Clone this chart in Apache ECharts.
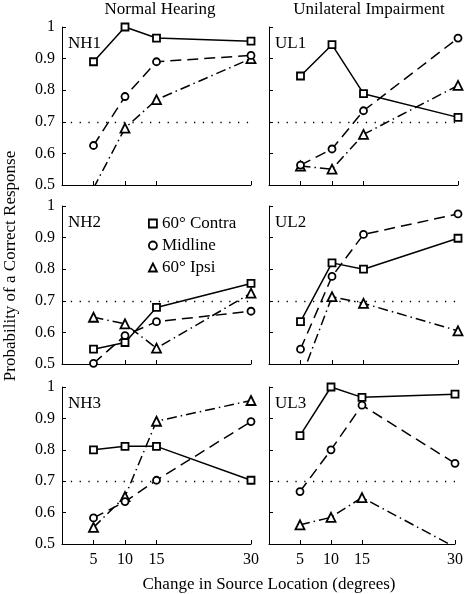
<!DOCTYPE html>
<html><head><meta charset="utf-8">
<script src="https://cdn.jsdelivr.net/npm/echarts@6/dist/echarts.min.js"></script>
<style>html,body{margin:0;padding:0;background:#fff}#c{width:466px;height:594px}</style>
</head><body><div id="c"></div>
<script>
// ---- data ----
const xValues = [5, 10, 15, 30];
const yTicks = [0.5, 0.6, 0.7, 0.8, 0.9, 1];
const panelNames = ['NH1', 'UL1', 'NH2', 'UL2', 'NH3', 'UL3'];
const seriesNames = ['60° Contra', 'Midline', '60° Ipsi'];
const columnTitles = ['Normal Hearing', 'Unilateral Impairment'];
const xAxisTitle = 'Change in Source Location (degrees)';
const yAxisTitle = 'Probability of a Correct Response';
const criterion = 0.7;

const nh1Contra = [0.89, 1.0, 0.965, 0.955];
const nh1Midline = [0.625, 0.78, 0.89, 0.91];
const nh1Ipsi = [0.49, 0.68, 0.77, 0.90];

const ul1Contra = [0.845, 0.944, 0.789, 0.714];
const ul1Midline = [0.563, 0.614, 0.735, 0.965];
const ul1Ipsi = [0.56, 0.55, 0.66, 0.815];

const nh2Contra = [0.547, 0.568, 0.679, 0.755];
const nh2Midline = [0.502, 0.59, 0.634, 0.667];
const nh2Ipsi = [0.648, 0.627, 0.55, 0.724];

const ul2Contra = [0.634, 0.82, 0.8, 0.898];
const ul2Midline = [0.547, 0.777, 0.91, 0.975];
const ul2Ipsi = [0.45, 0.713, 0.692, 0.605];

const nh3Contra = [0.80, 0.811, 0.811, 0.703];
const nh3Midline = [0.583, 0.635, 0.703, 0.89];
const nh3Ipsi = [0.553, 0.651, 0.891, 0.957];

const ul3Contra = [0.845, 1.0, 0.967, 0.977];
const ul3Midline = [0.667, 0.80, 0.942, 0.757];
const ul3Ipsi = [0.561, 0.585, 0.648, 0.49];

const panelData = [
  [nh1Contra, nh1Midline, nh1Ipsi],
  [ul1Contra, ul1Midline, ul1Ipsi],
  [nh2Contra, nh2Midline, nh2Ipsi],
  [ul2Contra, ul2Midline, ul2Ipsi],
  [nh3Contra, nh3Midline, nh3Ipsi],
  [ul3Contra, ul3Midline, ul3Ipsi]
];

// ---- styles ----
const FONT = 'Liberation Serif';
const FS = 16;
const FT = 17;
const colLeft = [62, 269];
const rowTop = [27, 206, 387];
const rowH = [158, 158, 157];
const gridW = 189;
const symbols = ['rect', 'circle', 'triangle'];
const symbolSizes = [7, 7, 9];
const lineTypes = ['solid', [11, 6], [10, 4, 1.5, 4]];
const txt = (size) => ({ color: '#000', fontFamily: FONT, fontSize: size, fontWeight: 'normal' });

const grids = [], xAxes = [], yAxes = [], series = [], titles = [];
for (let p = 0; p < 6; p++) {
  const col = p % 2, row = Math.floor(p / 2);
  grids.push({ left: colLeft[col], top: rowTop[row], width: gridW, height: rowH[row] });
  xAxes.push({
    type: 'value', gridIndex: p, min: 0, max: 30,
    axisLine: { show: true, lineStyle: { color: '#000', width: 1 } },
    axisTick: { show: true, inside: true, length: 4, customValues: xValues, lineStyle: { color: '#000' } },
    axisLabel: Object.assign({ show: row === 2, customValues: xValues, margin: 8 }, txt(FS)),
    splitLine: { show: false }
  });
  yAxes.push({
    type: 'value', gridIndex: p, min: yTicks[0], max: yTicks[yTicks.length - 1], interval: 0.1,
    axisLine: { show: true, lineStyle: { color: '#000', width: 1 } },
    axisTick: { show: true, inside: true, length: 4, lineStyle: { color: '#000' } },
    axisLabel: Object.assign({ show: col === 0, margin: 7 }, txt(FS)),
    splitLine: { show: false }
  });
  titles.push({ text: panelNames[p], left: colLeft[col] + 6, top: rowTop[row] + 8, padding: 0, textStyle: txt(FT) });
  for (let s = 0; s < 3; s++) {
    const ser = {
      name: seriesNames[s], type: 'line', xAxisIndex: p, yAxisIndex: p,
      data: xValues.map((x, i) => [x, panelData[p][s][i]]),
      symbol: symbols[s], symbolSize: symbolSizes[s],
      itemStyle: { color: '#fff', borderColor: '#000', borderWidth: 1.8 },
      lineStyle: { color: '#000', width: 1.5, type: lineTypes[s] },
      clip: true, animation: false, z: 3 - s
    };
    if (s === 0) {
      ser.markLine = {
        silent: true, symbol: ['none', 'none'], animation: false,
        label: { show: false },
        lineStyle: { color: '#000', width: 1.3, type: [1.3, 7.5] },
        data: [{ yAxis: criterion }]
      };
    }
    series.push(ser);
  }
}
titles.push({ text: columnTitles[0], left: 160, top: 1, padding: 0, textAlign: 'center', textStyle: txt(FT) });
titles.push({ text: columnTitles[1], left: 369, top: 1, padding: 0, textAlign: 'center', textStyle: txt(FT) });
titles.push({ text: xAxisTitle, left: 269, top: 576, padding: 0, textAlign: 'center', textStyle: txt(FT) });

const chart = echarts.init(document.getElementById('c'), null, { renderer: 'canvas' });
chart.setOption({
  animation: false,
  backgroundColor: '#fff',
  title: titles,
  grid: grids, xAxis: xAxes, yAxis: yAxes, series: series,
  graphic: [{
    type: 'text', x: 11, y: 266, rotation: Math.PI / 2, silent: true,
    style: { text: yAxisTitle, fill: '#000', font: FT + 'px "' + FONT + '"', align: 'center', verticalAlign: 'middle' }
  }],
  legend: {
    orient: 'vertical', left: 148, top: 215, padding: 0, itemGap: 5, itemWidth: 8, itemHeight: 8,
    selectedMode: false,
    textStyle: txt(FT),
    data: seriesNames.map((n, i) => ({
      name: n, icon: symbols[i],
      itemStyle: { color: '#fff', borderColor: '#000', borderWidth: 1.8 }
    }))
  }
});
</script></body></html>
